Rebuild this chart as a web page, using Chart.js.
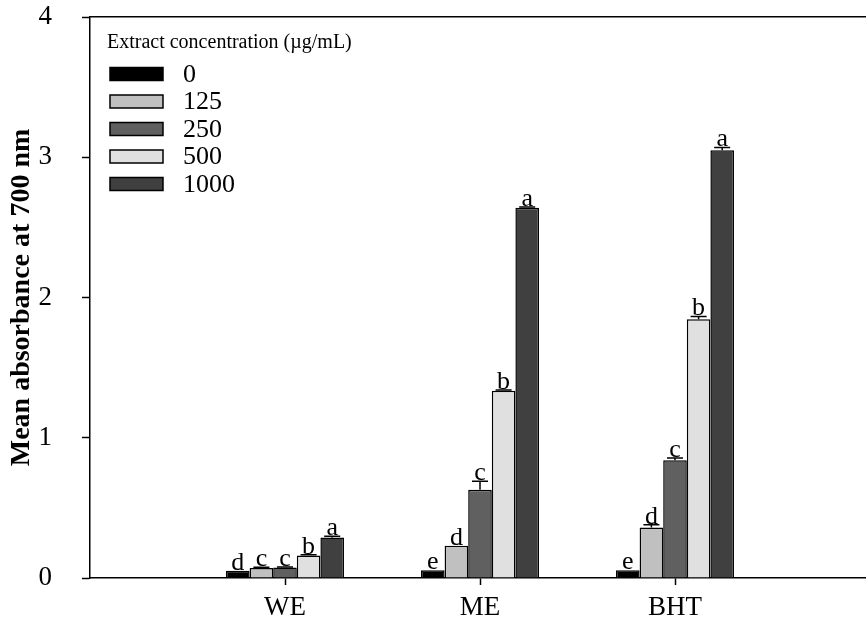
<!DOCTYPE html>
<html>
<head>
<meta charset="utf-8">
<script src="https://cdn.jsdelivr.net/npm/chart.js@4.4.1/dist/chart.umd.min.js"></script>
<style>
html,body{margin:0;padding:0;background:#fff;overflow:hidden}
#wrap{position:relative;width:866px;height:632px;overflow:hidden}
</style>
</head>
<body>
<div id="wrap"><canvas id="c" width="870" height="632"></canvas></div>
<script>
// groups sit at x = 1..3 on a 0..4 axis
const CATS=['','WE','ME','BHT',''];
const GROUP_X=[1,2,3];
const CONC=['0','125','250','500','1000'];
const FILLS=['#000000','#c0c0c0','#606060','#e0e0e0','#404040'];
const V0   =[0.052,0.055,0.055];
const V125 =[0.071,0.23,0.36];
const V250 =[0.074,0.63,0.84];
const V500 =[0.16,1.335,1.845];
const V1000=[0.288,2.64,3.05];
const E0   =[0,0,0];
const E125 =[0.005,0,0.02];
const E250 =[0.005,0.06,0.015];
const E500 =[0.005,0.005,0.02];
const E1000=[0.01,0.005,0.02];
const L0   =['d','e','e'];
const L125 =['c','d','d'];
const L250 =['c','c','c'];
const L500 =['b','b','b'];
const L1000=['a','a','a'];
const VALS=[V0,V125,V250,V500,V1000],ERRS=[E0,E125,E250,E500,E1000],LETS=[L0,L125,L250,L500,L1000];
const Y_TICKS=[0,1,2,3,4];

const SERIF='"Liberation Serif","Times New Roman",serif';

/* error bars + significance letters */
const barMarks={id:'barMarks',afterDatasetsDraw(chart){
  const ctx=chart.ctx,y=chart.scales.y;
  ctx.save();
  chart.data.datasets.forEach((ds,di)=>{
    chart.getDatasetMeta(di).data.forEach((bar,i)=>{
      const e=ERRS[di][i],top=y.getPixelForValue(VALS[di][i]+e);
      if(e>0){
        ctx.strokeStyle='#000';ctx.lineWidth=1.5;
        ctx.beginPath();ctx.moveTo(bar.x,bar.y);ctx.lineTo(bar.x,top);
        ctx.moveTo(bar.x-8,top);ctx.lineTo(bar.x+8,top);ctx.stroke();
      }
      ctx.fillStyle='#000';ctx.font='26px '+SERIF;ctx.textAlign='center';ctx.textBaseline='alphabetic';
      ctx.fillText(LETS[di][i],bar.x,top-1);
    });
  });
  ctx.restore();
}};

/* legend box top-left inside plot */
const legendBox={id:'legendBox',afterDraw(chart){
  const ctx=chart.ctx;
  ctx.save();
  ctx.fillStyle='#000';ctx.font='20px '+SERIF;ctx.textAlign='left';ctx.textBaseline='middle';
  ctx.fillText('Extract concentration (\u00b5g/mL)',107,43);
  CONC.forEach((c,i)=>{
    const yy=74+i*27.5;
    ctx.fillStyle=FILLS[i];ctx.fillRect(110,yy-6.5,53,13);
    ctx.strokeStyle='#000';ctx.lineWidth=1.5;ctx.strokeRect(110,yy-6.5,53,13);
    ctx.fillStyle='#000';ctx.font='26px '+SERIF;ctx.fillText(c,183,yy+1);
  });
  ctx.restore();
}};

const noPad=s=>{s.paddingTop=0;s.paddingBottom=0;s.paddingLeft=0;s.paddingRight=0;};

new Chart(document.getElementById('c'),{
  type:'bar',
  data:{datasets:CONC.map((c,i)=>({
    label:c,data:VALS[i].map((v,j)=>({x:GROUP_X[j],y:v})),
    backgroundColor:FILLS[i],borderColor:'#000',borderWidth:1.5,
    categoryPercentage:0.605,barPercentage:1
  }))},
  options:{responsive:false,animation:false,
    layout:{padding:0},
    plugins:{legend:{display:false},tooltip:{enabled:false}},
    scales:{
      x:{type:'linear',min:0,max:4,offset:false,
        afterBuildTicks:s=>{s.ticks=GROUP_X.map(v=>({value:v}));},
        grid:{offset:false,drawOnChartArea:false,drawTicks:true,tickLength:7,tickWidth:1.5,tickColor:'#000'},
        border:{color:'#000',width:1.5},
        ticks:{color:'#000',font:{family:SERIF,size:27},padding:7,autoSkip:false,maxRotation:0,callback:v=>CATS[v]},
        afterFit:s=>{s.height=54;noPad(s);}},
      xTop:{type:'linear',position:'top',min:0,max:4,
        grid:{display:false},ticks:{display:false},border:{color:'#000',width:1.5},
        afterFit:s=>{s.height=17;noPad(s);}},
      y:{min:0,max:4,
        afterBuildTicks:s=>{s.ticks=Y_TICKS.map(v=>({value:v}));},
        grid:{drawOnChartArea:false,drawTicks:true,tickLength:8,tickWidth:1.5,tickColor:'#000'},
        border:{color:'#000',width:1.5},
        ticks:{color:'#000',font:{family:SERIF,size:27},padding:30},
        title:{display:true,text:'Mean absorbance at 700 nm',color:'#000',font:{family:SERIF,size:28,weight:'bold'},padding:{top:5,bottom:0}},
        afterFit:s=>{s.width=90;noPad(s);}}
    }
  },
  plugins:[barMarks,legendBox]
});
</script>
</body>
</html>
